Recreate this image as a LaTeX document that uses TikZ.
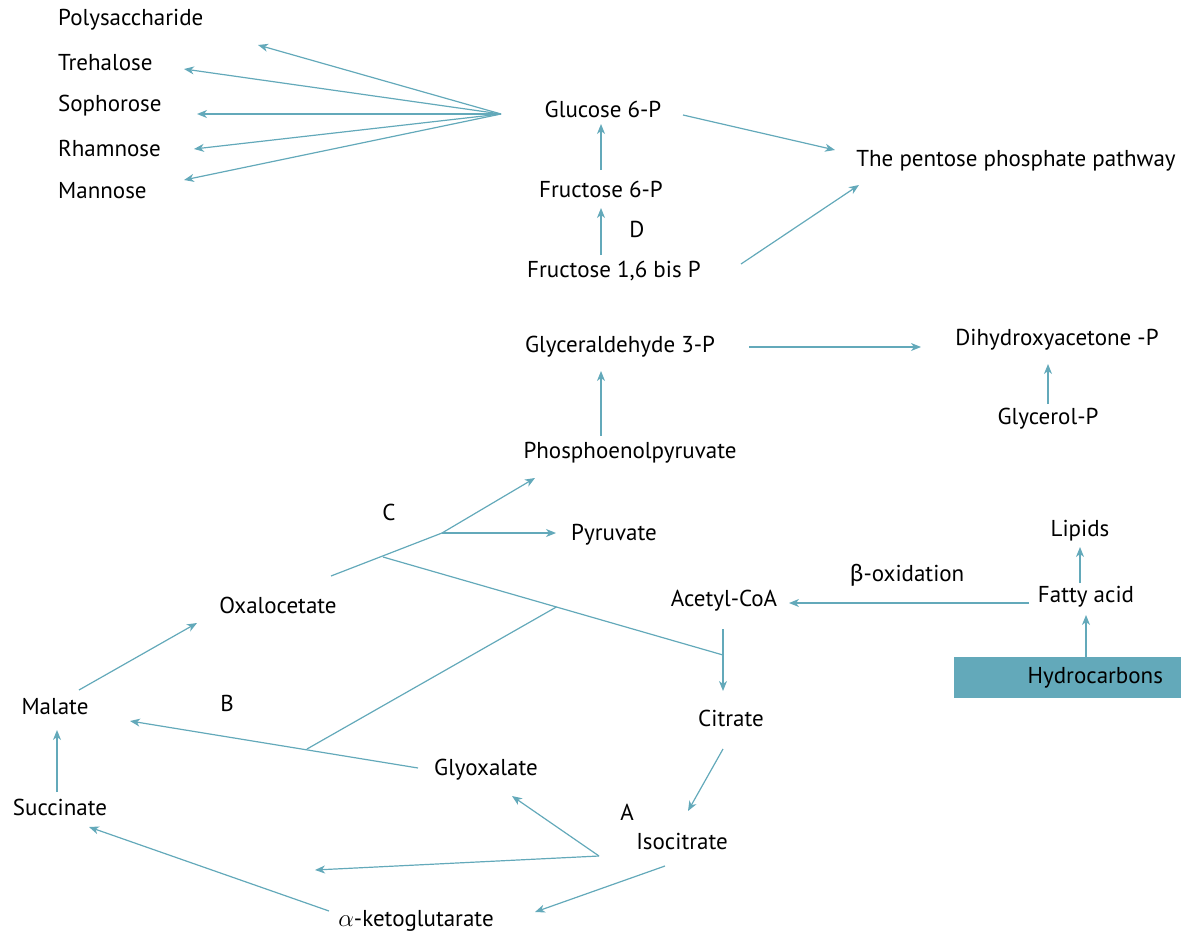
\documentclass[tikz,border=0pt]{standalone}
\usepackage{fontspec}
\setmainfont{PT Sans}
\newfontfamily\greekfont{Fira Sans}
\usetikzlibrary{arrows.meta,calc}
\definecolor{pathteal}{HTML}{63A9BA}

\begin{document}
\begin{tikzpicture}
    [
        x=1pt, y=-1pt,
        met/.style={inner sep=0pt, font=\fontsize{23}{27}\selectfont},
        lbl/.style={inner sep=0pt, font=\fontsize{23}{27}\selectfont},
        link/.style={draw=pathteal, line width=1.2pt},
        arr/.style={link, -{Stealth[length=10pt, width=8pt, inset=3pt]}},
    ]
    \useasboundingbox (0, 0) rectangle (1181, 934);

    % sugars on the left
    \foreach \n/\t/\y in
    {poly/Polysaccharide/20, tre/Trehalose/63, sop/Sophorose/106,
     rha/Rhamnose/148, man/Mannose/191}
    {
        \node [met, anchor=west] (\n) at (58, \y) {\t};
    }

    \node [met] (g6p) at (603, 109) {Glucose 6-P};
    \node [met] (f6p) at (601, 189) {Fructose 6-P};
    \node [lbl] (dlab) at (637, 229) {D};
    \node [met] (fbp) at (614, 271) {Fructose 1,6 bis P};
    \node [met] (ppp) at (1016, 161) {The pentose phosphate pathway};
    \node [met] (gap) at (620, 347) {Glyceraldehyde 3-P};
    \node [met] (dhap) at (1057, 340) {Dihydroxyacetone -P};
    \node [met] (glyp) at (1048, 419) {Glycerol-P};
    \node [met] (pep) at (630, 453) {Phosphoenolpyruvate};
    \node [lbl] (clab) at (389, 512) {C};
    \node [met] (pyr) at (614, 535) {Pyruvate};
    \node [met] (oaa) at (278, 605) {Oxalocetate};
    \node [met] (acoa) at (724, 601) {Acetyl-CoA};
    \node [lbl] (boxid) at (907, 575) {{\greekfont β}-oxidation};
    \node [met] (lip) at (1080, 531) {Lipids};
    \node [met] (fa) at (1086, 597) {Fatty acid};
    \node [met, fill=pathteal, inner xsep=18pt, text width=191pt, align=right,
        minimum height=41pt] (hc) at (1067.5, 677.5) {Hydrocarbons};
    \node [met] (mal) at (55, 707) {Malate};
    \node [lbl] (blab) at (227, 703) {B};
    \node [met] (cit) at (731, 718) {Citrate};
    \node [met] (gly) at (486, 770) {Glyoxalate};
    \node [met] (suc) at (60, 807) {Succinate};
    \node [lbl] (alab) at (627, 812) {A};
    \node [met] (ici) at (682, 841) {Isocitrate};
    \node [met] (akg) at (416, 921) {$\alpha$-ketoglutarate};

    % branch points
    \coordinate (fan) at (501, 114);
    \coordinate (cfork) at (442, 533);
    \coordinate (cbr) at (383, 557);
    \coordinate (ajoin) at (723, 655);
    \coordinate (gbr) at ($(cbr)!0.51!(ajoin)$);
    \coordinate (gjoin) at (307, 749);
    \coordinate (ifork) at ([shift={(-83, 15)}]ici.center);
    \coordinate (iend) at (315, 870);

    \foreach \n/\dx/\dy in
    {poly/200/25, tre/126/6, sop/139/8, rha/136/1, man/126/-11}
    {
        \draw [arr] (fan) -- ([shift={(\dx, \dy)}]\n.west);
    }

    \draw [arr] ([shift={(80, 6)}]g6p.center) -- ([shift={(-181, -11)}]ppp.center);
    \draw [arr] ([shift={(0, -19)}]f6p.center) -- ([shift={(-2, 15)}]g6p.center);
    \draw [arr] ([shift={(-13, -16)}]fbp.center) -- ([shift={(0, 19)}]f6p.center);
    \draw [arr] ([shift={(127, -7)}]fbp.center) -- ([shift={(-157, 24)}]ppp.center);
    \draw [arr] ([shift={(129, 0)}]gap.center) -- ([shift={(-136, 7)}]dhap.center);
    \draw [arr] ([shift={(0, -15)}]glyp.center) -- ([shift={(-9, 24)}]dhap.center);
    \draw [arr] ([shift={(-29, -17)}]pep.center) -- ([shift={(-19, 24)}]gap.center);

    \draw [link] ([shift={(53, -29)}]oaa.center) -- (cfork);
    \draw [arr] (cfork) -- ([shift={(-95, 25)}]pep.center);
    \draw [arr] (cfork) -- ([shift={(-58, -2)}]pyr.center);
    \draw [link] (cbr) -- (ajoin);
    \draw [arr] ([shift={(-1, 28)}]acoa.center) -- ([shift={(-8, -27)}]cit.center);
    \draw [link] (gbr) -- (gjoin);

    \draw [arr] ([shift={(-68, -2)}]gly.center) -- ([shift={(75, 14)}]mal.center);
    \draw [arr] ([shift={(24, -17)}]mal.center) -- ([shift={(-81, 18)}]oaa.center);
    \draw [arr] ([shift={(-3, -15)}]suc.center) -- ([shift={(2, 23)}]mal.center);
    \draw [arr] ([shift={(-8, 31)}]cit.center) -- ([shift={(6, -30)}]ici.center);
    \draw [arr] (ifork) -- ([shift={(26, 26)}]gly.center);
    \draw [arr] (ifork) -- (iend);
    \draw [arr] ([shift={(-17, 25)}]ici.center) -- ([shift={(119, -9)}]akg.center);
    \draw [arr] ([shift={(-87, -10)}]akg.center) -- ([shift={(29, 20)}]suc.center);

    \draw [arr] ([shift={(-57, 6)}]fa.center) -- ([shift={(65, 2)}]acoa.center);
    \draw [arr] ([shift={(-6, -14)}]fa.center) -- ([shift={(0, 16)}]lip.center);
    \draw [arr] ([shift={(18.5, -20.5)}]hc.center) -- ([shift={(0, 18)}]fa.center);

\end{tikzpicture}
\end{document}
